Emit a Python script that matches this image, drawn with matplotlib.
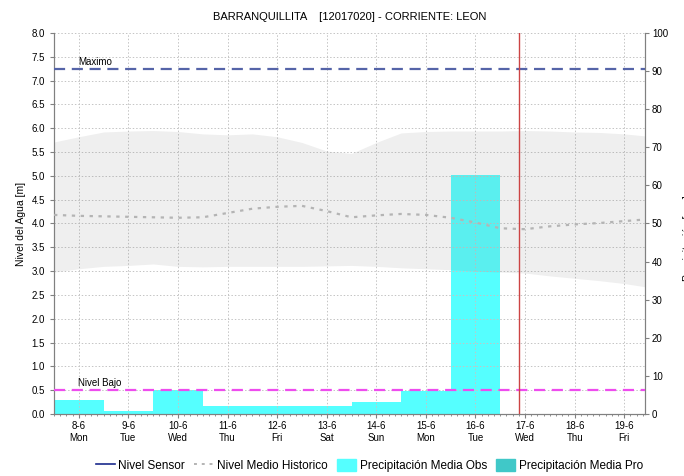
import matplotlib.pyplot as plt
import numpy as np
from matplotlib.lines import Line2D
from matplotlib.patches import Patch

plt.rcParams['font.family'] = ['Liberation Sans', 'DejaVu Sans']

# Days shown on the x axis
day_labels = ['8-6\nMon', '9-6\nTue', '10-6\nWed', '11-6\nThu', '12-6\nFri', '13-6\nSat',
              '14-6\nSun', '15-6\nMon', '16-6\nTue', '17-6\nWed', '18-6\nThu', '19-6\nFri']
days = np.arange(len(day_labels))

# Observed precipitation per day (right axis)
precip_obs = [3.6, 0.9, 6.2, 2.2, 2.0, 2.1, 3.1, 6.0, 62.8]

# Historic band (left axis, m), sampled every half day
band_x = [-0.5, 0.0, 0.5, 1.0, 1.5, 2.0, 2.5, 3.0, 3.5, 4.0, 4.5, 5.0, 5.5,
          6.0, 6.5, 7.0, 7.5, 8.0, 8.5, 9.0, 9.5, 10.0, 10.5, 11.0, 11.5]
band_hi = [5.71, 5.82, 5.92, 5.94, 5.95, 5.93, 5.88, 5.86, 5.88, 5.82, 5.70, 5.52, 5.47,
           5.70, 5.90, 5.93, 5.94, 5.94, 5.94, 5.95, 5.94, 5.92, 5.91, 5.88, 5.83]
band_lo = [2.98, 3.05, 3.10, 3.12, 3.15, 3.10, 3.09, 3.10, 3.10, 3.10, 3.10, 3.11, 3.12,
           3.10, 3.07, 3.05, 3.03, 3.00, 2.98, 2.96, 2.90, 2.85, 2.80, 2.74, 2.66]
band_mean = [4.18, 4.16, 4.15, 4.14, 4.13, 4.12, 4.13, 4.22, 4.31, 4.35, 4.37, 4.26, 4.13,
             4.17, 4.20, 4.18, 4.12, 4.02, 3.90, 3.88, 3.94, 3.98, 4.01, 4.05, 4.09]

nivel_max = 7.25
nivel_bajo = 0.5
now_day = 8.87

fig = plt.figure(figsize=(6.84, 4.76), dpi=100)
ax = fig.add_axes([0.079, 0.130, 0.864, 0.801])
ax2 = ax.twinx()

# bars on the right axis, behind the left axis content
ax2.set_zorder(0)
ax.set_zorder(1)
ax.patch.set_visible(False)
ax2.bar(days[:len(precip_obs)], precip_obs, width=1.0, color='#55ffff', zorder=2)
ax2.set_ylim(0, 100)
ax2.set_yticks(np.arange(0, 101, 10))

ax.fill_between(band_x, band_lo, band_hi, color='#808080', alpha=0.125, lw=0, zorder=2)
ax.plot(band_x, band_mean, color='#b4b4b4', ls=(0, (1.5, 2.5)), lw=1.6, zorder=3)

ax.axhline(nivel_max, color='#5564a8', ls=(0, (5, 3)), lw=1.6, zorder=4)
ax.axhline(nivel_bajo, color='#ee4cee', ls=(0, (5, 3)), lw=1.6, zorder=4)
ax.axvline(now_day, color='#cc4444', lw=1.0, zorder=5)
ax.text(-0.02, nivel_max + 0.04, 'Maximo', fontsize=7, va='bottom', ha='left')
ax.text(-0.02, nivel_bajo + 0.04, 'Nivel Bajo', fontsize=7, va='bottom', ha='left')

ax.set_xlim(-0.5, 11.42)
ax.set_ylim(0, 8)
ax.set_yticks(np.arange(0, 8.01, 0.5))
ax.set_yticklabels([f'{v:.1f}' for v in np.arange(0, 8.01, 0.5)])
ax.set_xticks(days)
ax.set_xticklabels(day_labels)
ax.set_xticks(np.arange(-0.5, 11.5, 1 / 8), minor=True)
ax.grid(True, color='#c4c4c4', ls=(0, (1.5, 2)), lw=0.7)
ax.set_ylabel('Nivel del Agua [m]', fontsize=7.5)
ax.set_title('BARRANQUILLITA    [12017020] - CORRIENTE: LEON', fontsize=8, pad=9)

for a in (ax, ax2):
    a.tick_params(labelsize=7, length=3, color='#808080', width=0.8)
    a.tick_params(which='minor', length=1.5, color='#808080')
    a.spines['top'].set_visible(False)
    for s in a.spines.values():
        s.set_color('#808080')
ax.tick_params(axis='x', pad=2)
ax2.tick_params(axis='y', pad=2)

# right axis title, cut by the picture edge as in the source image
fig.text(1.006, 0.50, 'Precipitación [mm]', rotation=90, fontsize=7.5,
         ha='center', va='center')

handles = [Line2D([], [], color='#1a2a8c', lw=1.2),
           Line2D([], [], color='#b4b4b4', lw=1.4, ls=(0, (1.5, 2.5))),
           Patch(color='#55ffff'),
           Patch(color='#40c8c8')]
labels = ['Nivel Sensor', 'Nivel Medio Historico',
          'Precipitación Media Obs', 'Precipitación Media Pro']
fig.legend(handles, labels, loc='center', bbox_to_anchor=(0.54, 0.022), ncol=4,
           frameon=False, fontsize=8.5, handlelength=1.6, handletextpad=0.3,
           columnspacing=0.8, handleheight=1.2)

fig.savefig('out.png', dpi=100)
